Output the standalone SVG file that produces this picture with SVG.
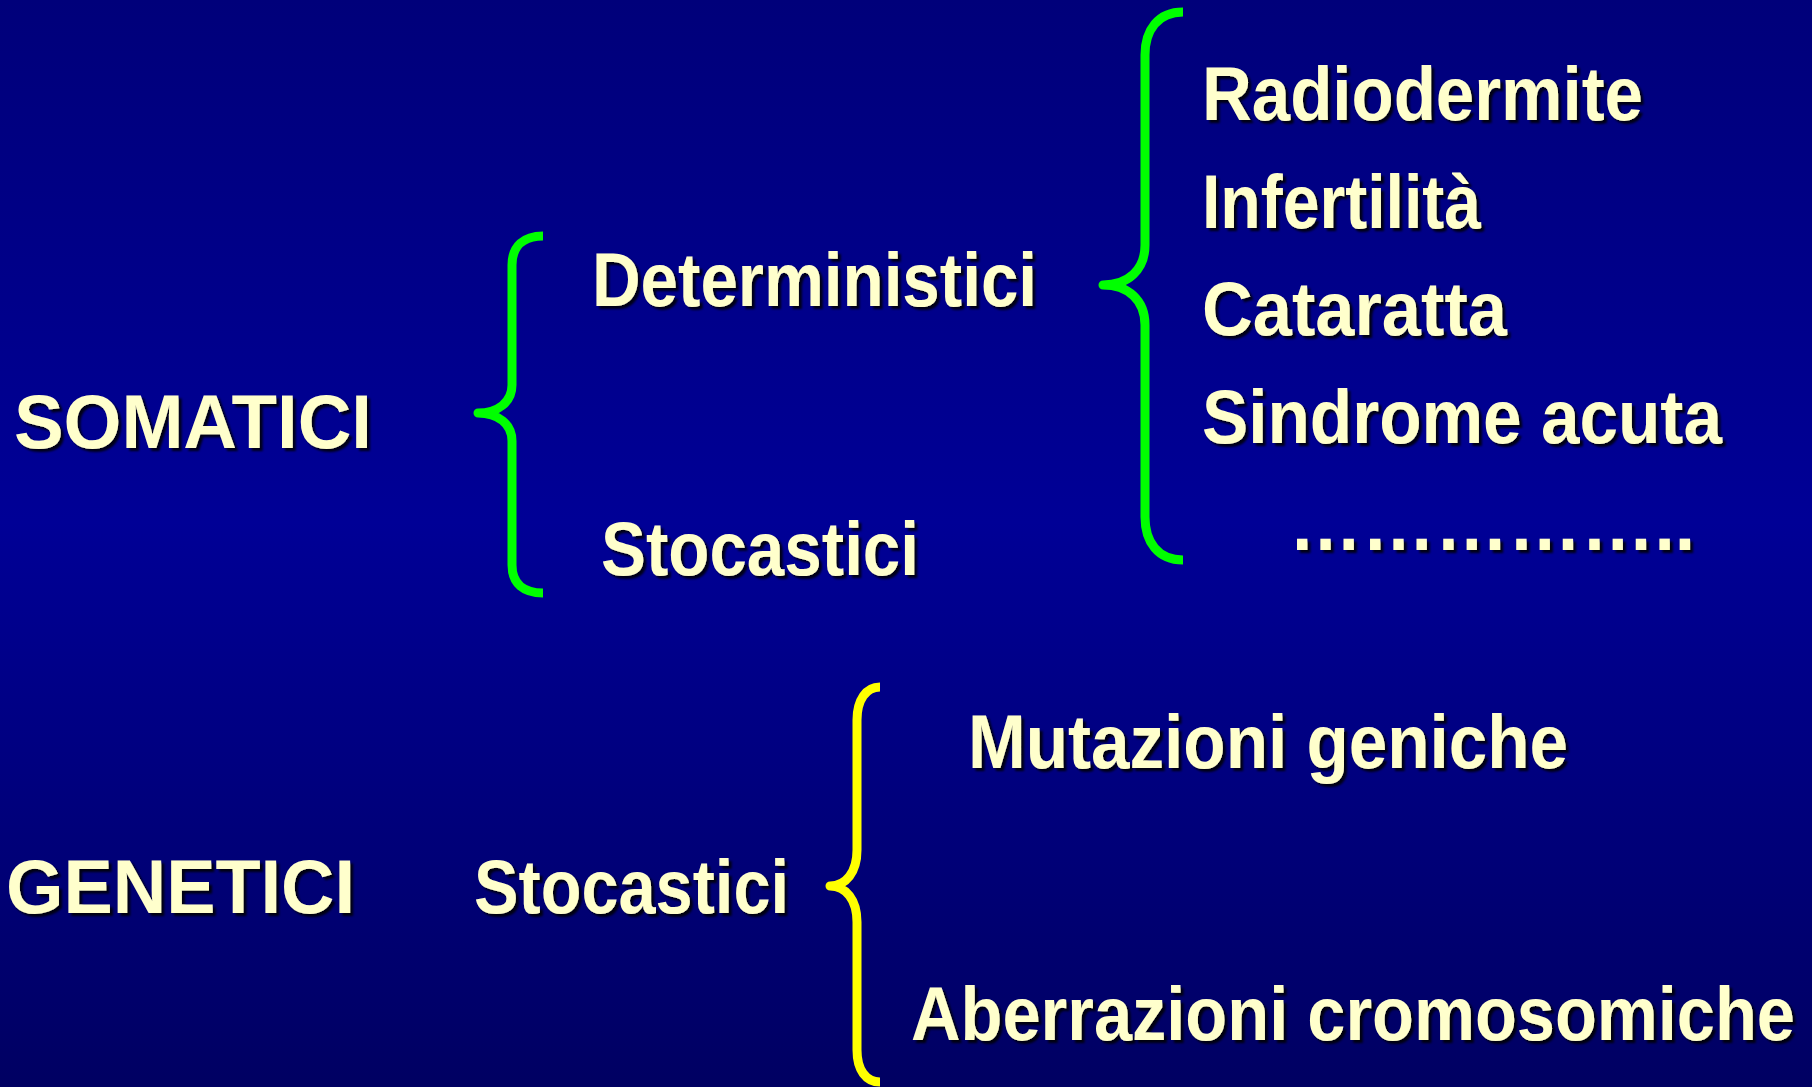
<svg xmlns="http://www.w3.org/2000/svg" width="1812" height="1087" viewBox="0 0 1812 1087">
<defs>
<linearGradient id="bg" x1="0" y1="0" x2="0" y2="1">
<stop offset="0" stop-color="#00007a"/>
<stop offset="0.48" stop-color="#000096"/>
<stop offset="1" stop-color="#000062"/>
</linearGradient>
<filter id="sh" x="-5%" y="-20%" width="115%" height="150%">
<feDropShadow dx="3" dy="3" stdDeviation="1.2" flood-color="#000000" flood-opacity="0.85"/>
</filter>
</defs>
<style>
.t{font-family:"Liberation Sans",Arial,sans-serif;font-weight:bold;font-size:76px;fill:#ffffcc;filter:url(#sh)}
.g{fill:none;stroke:#00ff00;stroke-width:9;stroke-linejoin:round;stroke-linecap:butt}
.y{fill:none;stroke:#ffff00;stroke-width:9;stroke-linejoin:round;stroke-linecap:butt}
</style>
<rect width="1812" height="1087" fill="url(#bg)"/>
<g id="connectors">
<path class="g" d="M543,236 C524,236 512,246 512,265 L512,385 C512,402 498,413 478,413 C498,413 512,424 512,441 L512,565 C512,584 524,593 543,593"/>
<path class="g" d="M1183,12 C1158,12 1145,30 1145,55 L1145,245 C1145,270 1128,285 1103,285 C1128,285 1145,300 1145,325 L1145,517 C1145,542 1158,560 1183,560"/>
<path class="y" d="M880,687 C866,687 857,700 857,720 L857,850 C857,872 846,886 830,886 C846,886 857,900 857,922 L857,1050 C857,1070 866,1082 880,1082"/>
</g>
<g id="somatici"><text class="t" x="14" y="448" textLength="358" lengthAdjust="spacingAndGlyphs">SOMATICI</text></g>
<g id="deterministici"><text class="t" x="592" y="306" textLength="445" lengthAdjust="spacingAndGlyphs">Deterministici</text></g>
<g id="stocastici-somatici"><text class="t" x="601" y="575" textLength="318" lengthAdjust="spacingAndGlyphs">Stocastici</text></g>
<g id="radiodermite"><text class="t" x="1202" y="120" textLength="441" lengthAdjust="spacingAndGlyphs">Radiodermite</text></g>
<g id="infertilita"><text class="t" x="1202" y="228" textLength="279" lengthAdjust="spacingAndGlyphs">Infertilità</text></g>
<g id="cataratta"><text class="t" x="1202" y="335" textLength="305" lengthAdjust="spacingAndGlyphs">Cataratta</text></g>
<g id="sindrome"><text class="t" x="1202" y="443" textLength="520" lengthAdjust="spacingAndGlyphs">Sindrome acuta</text></g>
<g id="dots"><text class="t" x="1289" y="550" textLength="406" lengthAdjust="spacingAndGlyphs">……………..</text></g>
<g id="genetici"><text class="t" x="6" y="913" textLength="349" lengthAdjust="spacingAndGlyphs">GENETICI</text></g>
<g id="stocastici-genetici"><text class="t" x="474" y="913" textLength="315" lengthAdjust="spacingAndGlyphs">Stocastici</text></g>
<g id="mutazioni"><text class="t" x="968" y="768" textLength="600" lengthAdjust="spacingAndGlyphs">Mutazioni geniche</text></g>
<g id="aberrazioni"><text class="t" x="1795" y="1040" text-anchor="end" textLength="884" lengthAdjust="spacingAndGlyphs">Aberrazioni cromosomiche</text></g>
</svg>
